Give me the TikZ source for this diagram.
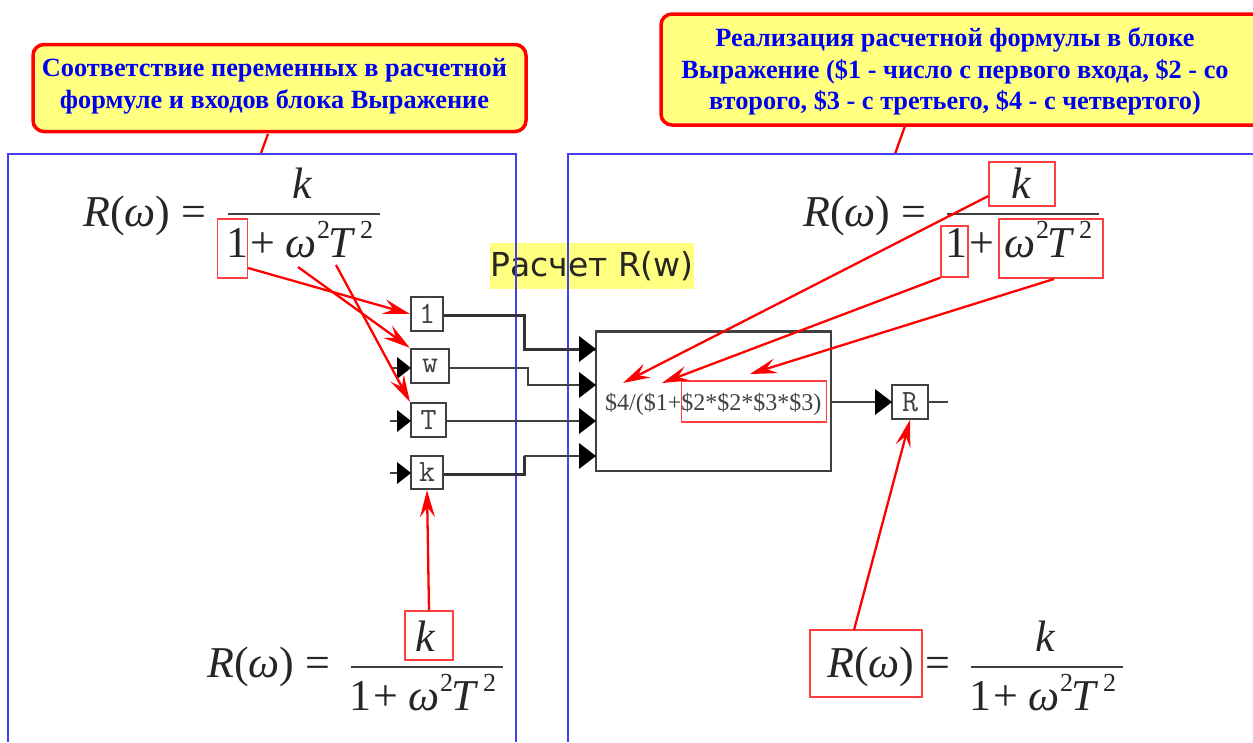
\documentclass[tikz,border=0pt]{standalone}
\usepackage{fontspec}
\setmainfont{Liberation Serif}
\newfontfamily\djv{DejaVu Sans}
\usetikzlibrary{arrows.meta}
\definecolor{cy}{HTML}{FFFF80}
\definecolor{tblue}{HTML}{0000F0}
\definecolor{fblue}{HTML}{4040F0}
\definecolor{blk}{HTML}{404040}
\definecolor{rbox}{HTML}{FF4040}
\tikzset{
 callout/.style={draw=red,line width=3.5pt,fill=cy,rounded corners=11pt},
 calltext/.style={align=center,text=tblue,font=\fontsize{26.3}{31.5}\selectfont\bfseries,inner sep=0pt},
 frame/.style={draw=fblue,line width=1.1pt},
 mth/.style={inner sep=0pt,anchor=base west,font=\fontsize{44}{44}\selectfont,text=black!85},
 sup2/.style={mth,font=\fontsize{26}{26}\selectfont},
 redbox/.style={draw=rbox,line width=1.3pt,inner sep=0pt},
 redarrow/.style={draw=red,line width=2.3pt,-{Stealth[length=27pt,width=15pt,inset=10pt]}},
 tail/.style={draw=red,line width=2.3pt},
 bar/.style={draw=blk,line width=1.4pt},
 blockbox/.style={draw=blk,fill=white,line width=2pt,inner sep=0pt,font=\ttfamily\fontsize{31}{31}\selectfont,text=blk},
 wire/.style={draw=blk,line width=2pt},
 hwire/.style={draw=blk!80!black,line width=3pt},
 head/.style={fill=black,draw=none},
}
\newcommand{\hd}[2]{\fill[head] (#1,#2) -- ++(-17,-13) -- ++(0,26) -- cycle;}
\newcommand{\hs}[2]{\fill[head] (#1,#2) -- ++(-14,-11) -- ++(0,22) -- cycle;}
% fraction: name, bar left x, bar y
\newcommand{\frc}[3]{%
 \node[mth] (#1k) at (#2+64,#3-16) {\textit{k}};
 \draw[bar] (#2,#3) -- (#2+152,#3);
 \node[mth] (#1d) at (#2-2,#3+43) {1};
 \node[mth] (#1p) at (#2+22,#3+43) {+};
 \node[mth] (#1o) at (#2+57,#3+43) {\textit{ω}};
 \node[sup2] (#1s) at (#2+89,#3+24) {2};
 \node[mth] (#1t) at (#2+100,#3+43) {\textit{T}};
 \node[sup2] (#1u) at (#2+132,#3+24) {2};
}
\begin{document}
\begin{tikzpicture}[x=1pt,y=-1pt]
\useasboundingbox (0,0) rectangle (1253,742);
\fill[white] (0,0) rectangle (1253,742);
% callouts
\coordinate (lt) at (261,153); \coordinate (rt) at (895,154);
\node[callout,minimum width=493pt,minimum height=87pt,inner sep=0pt] (cl) at (279.5,88) {};
\node[calltext] (clt) at (274.5,86.5) {Соответствие переменных в расчетной\\формуле и входов блока Выражение};
\draw[callout] (1253,14) -| (661,125) -- (1253,125);
\node[calltext] (crt) at (955,71.5) {Реализация расчетной формулы в блоке\\Выражение (\$1 - число с первого входа, \$2 - со\\второго, \$3 - с третьего, \$4 - с четвертого)};
\draw[tail] (268,134) -- (lt);
\draw[tail] (905,126) -- (rt);
% title
\node[fill=cy,minimum width=200pt,minimum height=46pt,inner sep=0pt,font=\djv\fontsize{33}{33}\selectfont,text=black!85] (title) at (592,266) {Расчет R(w)};
% frames
\draw[frame] (8,742) -- (8,154) -- (516,154) -- (516,742);
\draw[frame] (568,742) -- (568,154) -- (1253,154);
% blocks
\node[blockbox,minimum width=32pt,minimum height=34pt] (b1) at (427,314) {1};
\node[blockbox,line width=2.6pt,minimum width=38pt,minimum height=34pt] (bw) at (430,366) {w};
\node[blockbox,minimum width=35pt,minimum height=34pt] (bT) at (428.5,420) {T};
\node[blockbox,line width=2.5pt,minimum width=32pt,minimum height=33pt] (bk) at (427,472.5) {k};
\node[draw=blk,line width=1.7pt,minimum width=235pt,minimum height=139pt,inner sep=0pt] (expr) at (713.5,401.5) {};
\draw[draw=blk,line width=2.6pt] (expr.north west) -- (expr.north east);
\node[inner sep=0pt,anchor=base west,font=\fontsize{24}{24}\selectfont,text=blk] (etext) at (605,410) {\$4/(\$1+\$2*\$2*\$3*\$3)};
\node[blockbox,line width=1.7pt,minimum width=36pt,minimum height=34pt] (bR) at (910,402) {R};
\coordinate (p1) at (596,349); \coordinate (p2) at (596,385); \coordinate (p3) at (596,421); \coordinate (p4) at (596,456);
\coordinate (rout) at (948,402);
\coordinate (iw) at (391,368); \coordinate (iT) at (390,421); \coordinate (ik) at (390,473);
\draw[hwire] (b1.east |- 0,315) -| (524,349) -- (p1);
\draw[wire] (bw.east |- 0,368) -| (528,385) -- (p2);
\draw[wire] (bT.east |- 0,421) -- (p3);
\draw[hwire] (bk.east |- 0,474) -| (524,456);
\draw[wire] (524,456) -- (p4);
\draw[wire] (expr.east |- bR) -- (bR);
\draw[wire] (bR) -- (rout);
\draw[wire] (iw) -- (bw.west |- iw);
\draw[wire] (iT) -- (bT.west |- iT);
\draw[wire] (ik) -- (bk.west |- ik);
\hd{596}{349}\hd{596}{385}\hd{596}{421}\hd{596}{456}
\hd{892}{402}
\hs{411}{368}\hs{411}{421}\hs{411}{473}
% formulas
\node[mth] (f1r) at (83,226) {\textit{R}(\textit{ω}) =};
\frc{f1}{228}{214}
\node[mth] (f2r) at (803,226) {\textit{R}(\textit{ω}) =};
\frc{f2}{947}{214}
\node[mth] (f3r) at (207,677) {\textit{R}(\textit{ω}) =};
\frc{f3}{351}{667}
\node[mth] (f4r) at (827,677) {\textit{R}(\textit{ω}) =};
\frc{f4}{971}{667}
% red boxes
\node[redbox,minimum width=30pt,minimum height=59pt] (r1) at (232.5,248.5) {};
\node[redbox,minimum width=66pt,minimum height=44pt] (r2k) at (1022,184) {};
\node[redbox,minimum width=27pt,minimum height=51pt] (r21) at (954.5,251.5) {};
\node[redbox,minimum width=104pt,minimum height=59pt] (r2o) at (1051,248.5) {};
\node[redbox,minimum width=48pt,minimum height=49pt] (r3k) at (429,635.5) {};
\node[redbox,minimum width=112pt,minimum height=67pt] (r4) at (866,663.5) {};
\node[redbox,minimum width=145pt,minimum height=41pt] (r5) at (754,401.5) {};
% red arrows
\coordinate (s2) at (298,267); \coordinate (s3) at (336,265);
\coordinate (t1) at (623,383); \coordinate (t2) at (662,383); \coordinate (t3) at (750,374);
\draw[redarrow] (r1.east |- 0,268) -- (b1.west);
\draw[redarrow] (s2) -- (bw.north west);
\draw[redarrow] (s3) -- (bT.north west);
\draw[redarrow] (r3k.north) -- (bk.south);
\draw[redarrow] (r2k.west |- 0,196) -- (t1);
\draw[redarrow] (r21.south west) -- (t2);
\draw[redarrow] (r2o.south |- 0,279) ++(3,0) -- (t3);
\draw[redarrow] (854,630) -- (bR.south);
\end{tikzpicture}
\end{document}
